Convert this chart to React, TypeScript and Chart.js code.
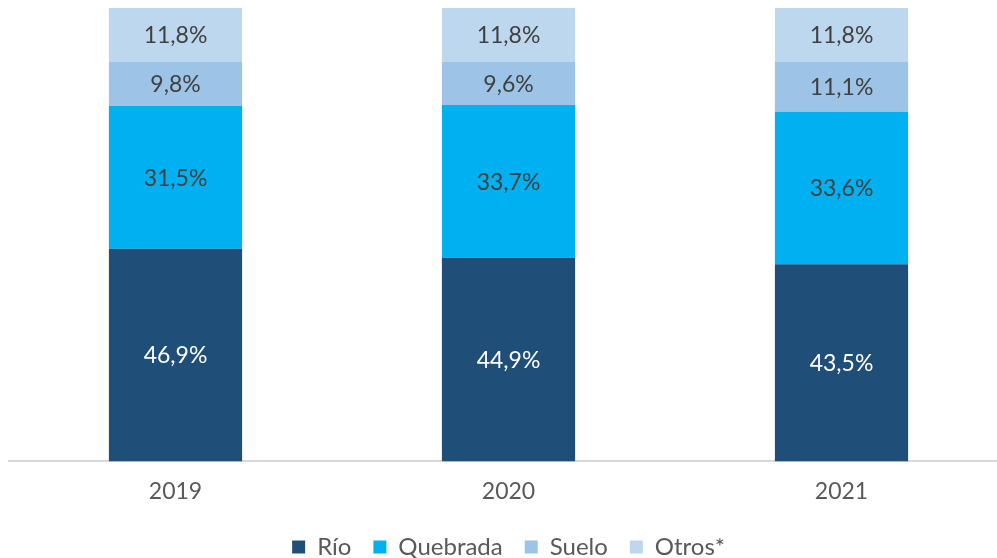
import React, { useEffect, useRef } from "react";
import { Chart, registerables } from "chart.js";

Chart.register(...registerables);

const years = ["2019", "2020", "2021"];
const rio = [46.9, 44.9, 43.5];
const quebrada = [31.5, 33.7, 33.6];
const suelo = [9.8, 9.6, 11.1];
const otros = [11.8, 11.8, 11.8];

const seriesNames = ["Río", "Quebrada", "Suelo", "Otros*"];
const seriesColors = ["#1F4E79", "#00B0F0", "#9DC3E6", "#BDD7EE"];
const labelColors = ["#FFFFFF", "#404040", "#404040", "#404040"];

const FONT = "Lato, 'Noto Sans', sans-serif";

const valueLabels = {
  id: "valueLabels",
  afterDatasetsDraw(chart: any) {
    const ctx = chart.ctx;
    ctx.save();
    ctx.font = `23px ${FONT}`;
    ctx.textAlign = "center";
    ctx.textBaseline = "middle";
    chart.data.datasets.forEach((ds: any, i: number) => {
      const meta = chart.getDatasetMeta(i);
      meta.data.forEach((bar: any, j: number) => {
        const v = ds.data[j];
        const y = (bar.y + bar.base) / 2 + 1;
        ctx.fillStyle = labelColors[i];
        ctx.fillText(v.toFixed(1).replace(".", ",") + "%", bar.x, y);
      });
    });
    ctx.restore();
  },
};

export default function App() {
  const ref = useRef<HTMLCanvasElement | null>(null);
  useEffect(() => {
    if (!ref.current) return;
    const values = [rio, quebrada, suelo, otros];
    const chart = new Chart(ref.current, {
      type: "bar",
      data: {
        labels: years,
        datasets: values.map((d, i) => ({
          label: seriesNames[i],
          data: d,
          backgroundColor: seriesColors[i],
          borderWidth: 0,
          barPercentage: 0.8,
          categoryPercentage: 0.5,
        })),
      },
      options: {
        animation: false,
        responsive: false,
        maintainAspectRatio: false,
        layout: { padding: { left: 9, right: 0, top: 8, bottom: 0 } },
        scales: {
          x: {
            stacked: true,
            grid: { display: false },
            border: { display: true, color: "#D9D9D9", width: 2 },
            ticks: { color: "#595959", font: { family: FONT, size: 23 }, padding: 8 },
          },
          y: {
            stacked: true,
            display: false,
            min: 0,
            max: 100,
          },
        },
        plugins: {
          legend: {
            position: "bottom",
            labels: {
              color: "#595959",
              font: { family: FONT, size: 24 },
              boxWidth: 13,
              boxHeight: 13,
              padding: 22,
            },
          },
          tooltip: { enabled: false },
        },
      },
      plugins: [valueLabels],
    });
    return () => chart.destroy();
  }, []);
  return (
    <div style={{ position: "fixed", left: 0, top: 0, width: 997, height: 558, overflow: "hidden", background: "#fff" }}>
      <canvas ref={ref} width={1008} height={569} style={{ display: "block" }} />
    </div>
  );
}
